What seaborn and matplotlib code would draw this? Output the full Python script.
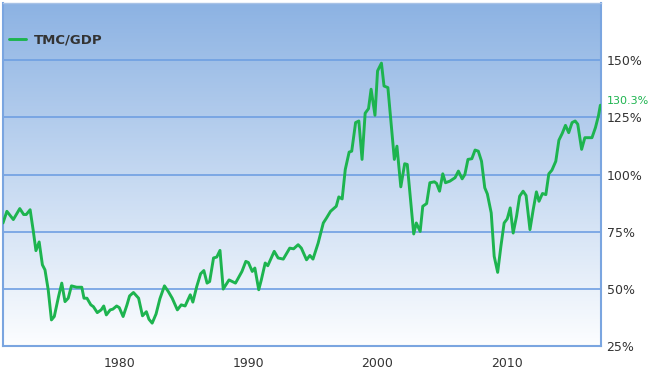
import numpy as np
import matplotlib
matplotlib.use("Agg")
import matplotlib.pyplot as plt
import seaborn as sns

# Market cap / GDP
years = [1971.0, 1971.3, 1971.8, 1972.3, 1972.6, 1972.8, 1973.1, 1973.35, 1973.55, 1973.8,
         1974.05, 1974.25, 1974.5, 1974.75, 1974.97, 1975.3, 1975.55, 1975.8, 1976.05, 1976.3,
         1976.7, 1977.1, 1977.27, 1977.5, 1977.8, 1978.0, 1978.3, 1978.6, 1978.8, 1979.0,
         1979.3, 1979.5, 1979.8, 1980.0, 1980.3, 1980.6, 1980.8, 1981.1, 1981.5, 1981.8,
         1982.1, 1982.3, 1982.55, 1982.85, 1983.15, 1983.5, 1983.8, 1984.1, 1984.5, 1984.8,
         1985.1, 1985.5, 1985.7, 1986.0, 1986.3, 1986.55, 1986.8, 1987.0, 1987.3, 1987.55,
         1987.8, 1988.05, 1988.5, 1989.0, 1989.5, 1989.8, 1990.0, 1990.3, 1990.5, 1990.8,
         1991.0, 1991.3, 1991.5, 1992.0, 1992.3, 1992.7, 1993.2, 1993.5, 1993.85, 1994.1,
         1994.5, 1994.76, 1995.0, 1995.4, 1995.8, 1996.05, 1996.36, 1996.8, 1997.0, 1997.26,
         1997.5, 1997.8, 1998.0, 1998.3, 1998.55, 1998.8, 1999.04, 1999.3, 1999.5, 1999.8,
         2000.0, 2000.3, 2000.5, 2000.8, 2001.0, 2001.3, 2001.5, 2001.8, 2002.1, 2002.3,
         2002.8, 2003.0, 2003.3, 2003.5, 2003.8, 2004.05, 2004.4, 2004.57, 2004.8, 2005.05,
         2005.26, 2005.6, 2006.0, 2006.26, 2006.55, 2006.76, 2007.0, 2007.3, 2007.55, 2007.8,
         2008.05, 2008.3, 2008.5, 2008.8, 2009.03, 2009.3, 2009.55, 2009.8, 2010.04, 2010.27,
         2010.5, 2010.76, 2011.0, 2011.27, 2011.5, 2011.8, 2012.05, 2012.3, 2012.5, 2012.77,
         2013.03, 2013.26, 2013.5, 2013.8, 2014.04, 2014.3, 2014.55, 2014.8, 2015.06, 2015.3,
         2015.5, 2015.8, 2016.05, 2016.6, 2016.87, 2017.1, 2017.25]
tmc_gdp = [78.8, 83.9, 80.3, 85.1, 82.5, 82.5, 84.6, 75.1, 66.7, 70.5,
           60.5, 58.3, 49.6, 36.4, 37.9, 46.6, 52.5, 44.4, 45.9, 51.3,
           50.7, 50.7, 45.9, 45.9, 43.0, 42.2, 39.6, 40.8, 42.5, 38.6,
           40.8, 41.1, 42.5, 41.8, 37.9, 43.0, 46.9, 48.4, 45.9, 38.2,
           40.0, 36.7, 35.0, 39.0, 45.7, 51.3, 48.8, 45.9, 40.8, 43.0,
           42.5, 47.4, 44.2, 51.0, 56.6, 58.0, 52.5, 53.2, 63.5, 63.9,
           66.8, 49.9, 53.9, 52.5, 57.6, 62.0, 61.5, 57.6, 59.1, 49.6,
           53.9, 61.3, 60.1, 66.4, 63.5, 63.0, 67.8, 67.5, 69.3, 67.8,
           62.7, 64.6, 63.0, 70.0, 78.8, 81.0, 83.9, 86.1, 90.2, 89.3,
           102.2, 109.8, 110.2, 122.7, 123.4, 106.6, 126.8, 128.8, 137.3, 125.9,
           145.3, 148.7, 138.7, 138.0, 125.6, 106.6, 112.4, 94.6, 104.7, 104.4,
           74.0, 78.8, 75.1, 86.1, 87.3, 96.4, 96.8, 96.1, 92.7, 100.3,
           96.4, 97.1, 98.6, 101.5, 98.1, 100.0, 106.6, 106.9, 110.7, 110.2,
           105.8, 94.2, 91.5, 83.2, 64.2, 57.2, 68.6, 78.8, 80.6, 85.4,
           74.4, 81.7, 90.5, 92.7, 90.8, 75.9, 84.6, 92.4, 88.3, 91.7,
           91.2, 100.3, 101.9, 105.8, 115.0, 118.0, 121.5, 118.3, 122.7, 123.4,
           122.0, 111.0, 116.1, 116.1, 120.5, 125.6, 130.3]

x_ticks = [1980, 1990, 2000, 2010]
y_ticks = [25, 50, 75, 100, 125, 150]
y_labels = ["25%", "50%", "75%", "100%", "125%", "150%"]

green = "#1db44f"
blue = "#7aa5e0"

sns.set_style("white")
fig = plt.figure(figsize=(6.5, 3.72), dpi=100)
ax = fig.add_axes([3 / 650, 26 / 372, 598 / 650, 343 / 372])

x0, x1 = 1971.0, 2017.3
y0, y1 = 25, 175

# fondo degradado azul -> blanco
top = np.array([0.55, 0.70, 0.89])
bottom = np.array([0.99, 0.995, 1.0])
t = np.linspace(0, 1, 256)[:, None]
grad = (top * (1 - t) + bottom * t)[:, None, :]
ax.imshow(grad, extent=[x0, x1, y0, y1], aspect="auto", zorder=0, origin="upper")

for v in y_ticks[1:]:
    ax.axhline(v, color="#6f9fe2", lw=1.2, zorder=1)

sns.lineplot(x=years, y=tmc_gdp, ax=ax, color=green, linewidth=2.1,
             label="TMC/GDP", zorder=3)

ax.set_xlim(x0, x1)
ax.set_ylim(y0, y1)
ax.set_xticks(x_ticks)
ax.set_xticklabels([str(v) for v in x_ticks])
ax.set_yticks(y_ticks)
ax.set_yticklabels(y_labels)
ax.yaxis.tick_right()
ax.tick_params(axis="y", length=0, pad=4, labelsize=9, labelcolor="#333333")
ax.tick_params(axis="x", length=5, width=1.2, color=blue, pad=3,
               labelsize=9, labelcolor="#333333")
ax.set_xlabel("")
ax.set_ylabel("")

for side in ["left", "bottom", "right"]:
    ax.spines[side].set_color(blue)
    ax.spines[side].set_linewidth(1.5)
ax.spines["top"].set_color("#a8c2e6")
ax.spines["top"].set_linewidth(1.0)

leg = ax.legend(loc="upper left", bbox_to_anchor=(-0.01, 0.945), frameon=False,
                handlelength=1.3, handletextpad=0.6, fontsize=9.5)
for txt in leg.get_texts():
    txt.set_color("#333333")
    txt.set_fontweight("bold")

ax.annotate(f"{tmc_gdp[-1]:.1f}%", xy=(x1, tmc_gdp[-1]), xytext=(4, 3),
            textcoords="offset points", ha="left", va="center",
            color=green, fontsize=8, annotation_clip=False)

fig.savefig("out.png", dpi=100)
